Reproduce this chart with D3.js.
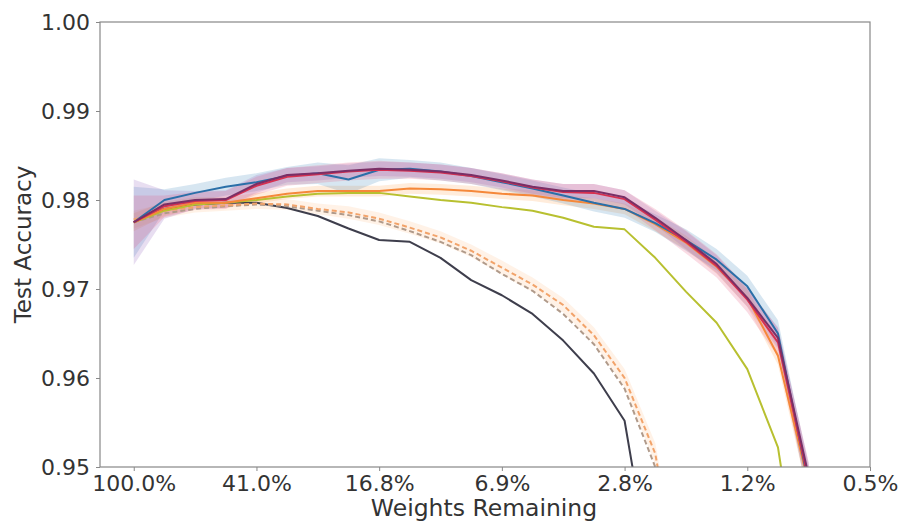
<!DOCTYPE html>
<html>
<head>
<meta charset="utf-8">
<script src="https://cdn.jsdelivr.net/npm/d3@7"></script>
<style>
  html, body { margin: 0; padding: 0; background: #fff; }
  svg { display: block; }
  text { font-family: "DejaVu Sans", sans-serif; fill: #333; }
</style>
</head>
<body>
<svg id="chart" width="902" height="524"></svg>
<script>
// ---- data (pruning iteration index; weights remaining = 0.8^i) ----
const xTickIdx = [0, 4, 8, 12, 16, 20, 24];
const xTickLabels = ["100.0%", "41.0%", "16.8%", "6.9%", "2.8%", "1.2%", "0.5%"];
const yTicks = [0.95, 0.96, 0.97, 0.98, 0.99, 1.00];
const yTickLabels = ["0.95", "0.96", "0.97", "0.98", "0.99", "1.00"];

const blueMean = [0.9775,0.9800,0.9808,0.9815,0.9820,0.9827,0.9830,0.9823,0.9834,0.9835,0.9832,0.9827,0.9820,0.9813,0.9805,0.9797,0.9790,0.9774,0.9755,0.9733,0.9703,0.9650,0.9480,0.9150];
const blueStd  = [0.0040,0.0012,0.0010,0.0010,0.0010,0.0010,0.0012,0.0016,0.0013,0.0010,0.0010,0.0009,0.0009,0.0009,0.0009,0.0010,0.0010,0.0010,0.0012,0.0012,0.0012,0.0015,0.0020,0.0030];

const redMean  = [0.9775,0.9793,0.9799,0.9800,0.9816,0.9826,0.9829,0.9832,0.9834,0.9833,0.9831,0.9827,0.9821,0.9814,0.9809,0.9808,0.9801,0.9778,0.9753,0.9726,0.9688,0.9640,0.9485,0.9150];
const redStd   = [0.0030,0.0012,0.0010,0.0010,0.0010,0.0010,0.0010,0.0010,0.0010,0.0009,0.0009,0.0009,0.0009,0.0009,0.0009,0.0010,0.0010,0.0012,0.0013,0.0013,0.0014,0.0016,0.0020,0.0030];

const purpleMean = [0.9775,0.9795,0.9800,0.9801,0.9818,0.9828,0.9830,0.9833,0.9835,0.9834,0.9832,0.9828,0.9822,0.9815,0.9810,0.9810,0.9803,0.9780,0.9755,0.9728,0.9690,0.9645,0.9490,0.9150];
const purpleStd  = [0.0048,0.0016,0.0010,0.0010,0.0010,0.0008,0.0008,0.0008,0.0008,0.0008,0.0008,0.0008,0.0008,0.0008,0.0008,0.0008,0.0008,0.0008,0.0010,0.0010,0.0010,0.0012,0.0015,0.0020];

const orangeMean = [0.9775,0.9790,0.9797,0.9797,0.9802,0.9807,0.9810,0.9810,0.9810,0.9813,0.9812,0.9810,0.9807,0.9805,0.9800,0.9796,0.9790,0.9773,0.9752,0.9725,0.9690,0.9625,0.9480,0.9200];
const orangeStd  = [0.0010,0.0008,0.0006,0.0006,0.0006,0.0006,0.0006,0.0006,0.0006,0.0006,0.0006,0.0006,0.0006,0.0006,0.0006,0.0006,0.0006,0.0008,0.0008,0.0008,0.0010,0.0010,0.0015,0.0020];

const oliveMean = [0.9775,0.9788,0.9795,0.9797,0.9800,0.9804,0.9807,0.9808,0.9808,0.9804,0.9800,0.9797,0.9792,0.9788,0.9780,0.9770,0.9767,0.9735,0.9697,0.9662,0.9610,0.9522,0.9300,0.9000];

const grayMean = [0.9775,0.9790,0.9795,0.9797,0.9797,0.9791,0.9782,0.9768,0.9755,0.9753,0.9735,0.9710,0.9693,0.9672,0.9642,0.9605,0.9552,0.9350];

const dashBrownMean = [0.9775,0.9785,0.9790,0.9793,0.9795,0.9793,0.9788,0.9783,0.9776,0.9765,0.9753,0.9738,0.9717,0.9698,0.9672,0.9638,0.9588,0.9500,0.9300];
const dashOrangeMean = [0.9778,0.9788,0.9792,0.9794,0.9796,0.9795,0.9790,0.9786,0.9779,0.9769,0.9758,0.9743,0.9724,0.9705,0.9682,0.9648,0.9600,0.9515,0.9320];
const dashStd = [0.0010,0.0008,0.0006,0.0006,0.0006,0.0006,0.0006,0.0007,0.0007,0.0007,0.0007,0.0007,0.0008,0.0008,0.0008,0.0009,0.0010,0.0012,0.0018];

// ---- layout ----
const svg = d3.select("#chart");
const L = 100, R = 870, T = 22, B = 467;
const x = d3.scaleLinear().domain([-1.1, 24]).range([L, R]);
const y = d3.scaleLinear().domain([0.95, 1.00]).range([B, T]);

svg.append("defs").append("clipPath").attr("id", "clip")
  .append("rect").attr("x", L).attr("y", T).attr("width", R - L).attr("height", B - T);

const plot = svg.append("g").attr("clip-path", "url(#clip)");

function band(mean, std, color, op) {
  const area = d3.area()
    .x((d, i) => x(i))
    .y0((d, i) => y(mean[i] - std[i]))
    .y1((d, i) => y(mean[i] + std[i]));
  plot.append("path").datum(mean).attr("d", area)
    .attr("fill", color).attr("fill-opacity", op).attr("stroke", "none");
}
function line(mean, color, width, dash, op) {
  const ln = d3.line().x((d, i) => x(i)).y(d => y(d));
  plot.append("path").datum(mean).attr("d", ln)
    .attr("fill", "none").attr("stroke", color).attr("stroke-width", width)
    .attr("stroke-dasharray", dash || null)
    .attr("stroke-opacity", op == null ? 1 : op)
    .attr("stroke-linejoin", "round");
}

// bands
band(dashOrangeMean, dashStd, "#ffae6a", 0.16);
band(orangeMean, orangeStd, "#ff7f0e", 0.15);
band(blueMean, blueStd, "#1f77b4", 0.18);
band(purpleMean, purpleStd, "#9467bd", 0.22);
band(redMean, redStd, "#e7507a", 0.2);

// lines
line(grayMean, "#3e3e4c", 2);
line(dashBrownMean, "#b09a8a", 2, "5,3");
line(dashOrangeMean, "#f2a36a", 2, "5,3");
line(oliveMean, "#b8c030", 2);
line(orangeMean, "#f5883a", 2);
line(blueMean, "#2a6fa8", 2);
line(redMean, "#d63050", 2);
line(purpleMean, "#7a2f66", 2);

// ---- axes ----
const xAxis = d3.axisBottom(x).tickValues(xTickIdx)
  .tickFormat((d, i) => xTickLabels[i]).tickSize(4).tickPadding(4);
const gx = svg.append("g").attr("transform", `translate(0,${B})`).call(xAxis);
gx.select(".domain").remove();
gx.selectAll(".tick line").attr("stroke", "#888");
gx.selectAll("text").attr("font-size", 22).attr("fill", "#333")
  .attr("font-family", "DejaVu Sans, sans-serif");

const yAxis = d3.axisLeft(y).tickValues(yTicks)
  .tickFormat((d, i) => yTickLabels[i]).tickSize(4).tickPadding(6);
const gy = svg.append("g").attr("transform", `translate(${L},0)`).call(yAxis);
gy.select(".domain").remove();
gy.selectAll(".tick line").attr("stroke", "#888");
gy.selectAll("text").attr("font-size", 22).attr("fill", "#333")
  .attr("font-family", "DejaVu Sans, sans-serif");

// frame
svg.append("rect").attr("x", L).attr("y", T).attr("width", R - L).attr("height", B - T)
  .attr("fill", "none").attr("stroke", "#888").attr("stroke-width", 1.2);

// labels
svg.append("text").attr("x", (L + R) / 2 - 1).attr("y", 516)
  .attr("text-anchor", "middle").attr("font-size", 23.5).text("Weights Remaining");
svg.append("text").attr("transform", `translate(31,${(T + B) / 2}) rotate(-90)`)
  .attr("text-anchor", "middle").attr("font-size", 23).text("Test Accuracy");
</script>
</body>
</html>
